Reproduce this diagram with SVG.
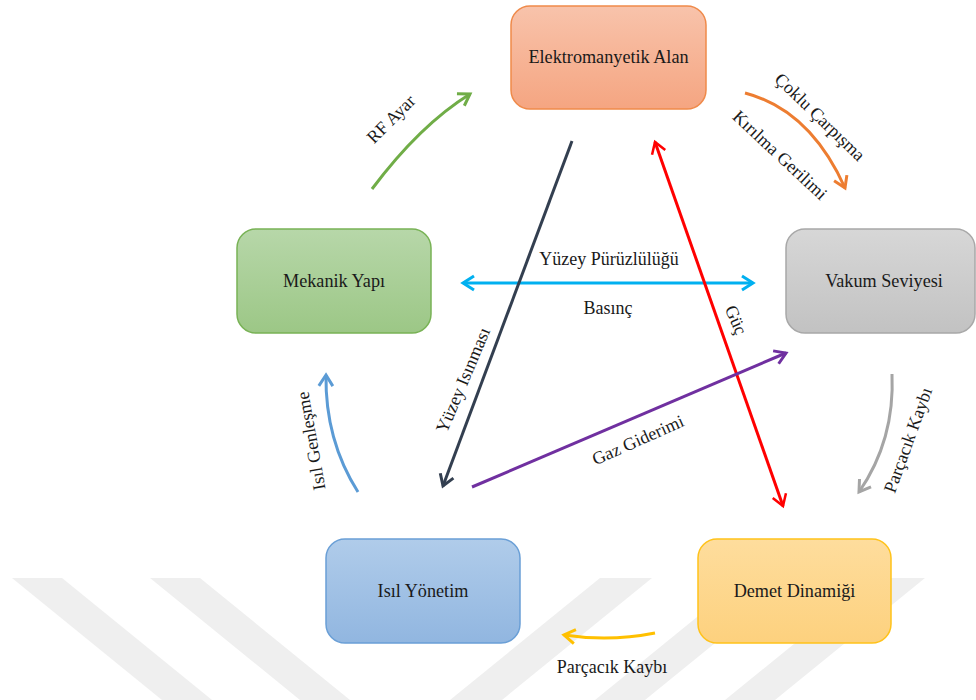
<svg xmlns="http://www.w3.org/2000/svg" width="976" height="700" viewBox="0 0 976 700">
  <style>
    .node-text { font-family: "Liberation Serif", "Times New Roman", serif; font-size: 18.2px; fill: #1a1a1a; text-anchor: middle; }
    .label { font-family: "Liberation Serif", "Times New Roman", serif; font-size: 18px; fill: #1a1a1a; text-anchor: middle; }
    .edge { fill: none; stroke-width: 3; stroke-linecap: butt; }
    .box { stroke-width: 1.5; }
    .stripe { fill: #efefef; }
  </style>
  <defs>
    <linearGradient id="g-orange" x1="0" y1="0" x2="0" y2="1">
      <stop offset="0" stop-color="#f8c3ab"/>
      <stop offset="1" stop-color="#f5a581"/>
    </linearGradient>
    <linearGradient id="g-green" x1="0" y1="0" x2="0" y2="1">
      <stop offset="0" stop-color="#b7d7a9"/>
      <stop offset="1" stop-color="#9cc786"/>
    </linearGradient>
    <linearGradient id="g-gray" x1="0" y1="0" x2="0" y2="1">
      <stop offset="0" stop-color="#d7d7d7"/>
      <stop offset="1" stop-color="#c2c2c2"/>
    </linearGradient>
    <linearGradient id="g-blue" x1="0" y1="0" x2="0" y2="1">
      <stop offset="0" stop-color="#b0ccea"/>
      <stop offset="1" stop-color="#91b6e0"/>
    </linearGradient>
    <linearGradient id="g-yellow" x1="0" y1="0" x2="0" y2="1">
      <stop offset="0" stop-color="#fedd9d"/>
      <stop offset="1" stop-color="#fdd17e"/>
    </linearGradient>
    <marker id="m-green" markerUnits="userSpaceOnUse" markerWidth="30" markerHeight="30" viewBox="-15 -15 30 30" refX="0" refY="0" orient="auto-start-reverse" overflow="visible">
      <path d="M-11,-7 L0,0 L-11,7" fill="none" stroke="#70ad47" stroke-width="3"/>
    </marker>
    <marker id="m-orange" markerUnits="userSpaceOnUse" markerWidth="30" markerHeight="30" viewBox="-15 -15 30 30" refX="0" refY="0" orient="auto-start-reverse" overflow="visible">
      <path d="M-11,-7 L0,0 L-11,7" fill="none" stroke="#ed7d31" stroke-width="3"/>
    </marker>
    <marker id="m-cyan" markerUnits="userSpaceOnUse" markerWidth="30" markerHeight="30" viewBox="-15 -15 30 30" refX="0" refY="0" orient="auto-start-reverse" overflow="visible">
      <path d="M-11,-7 L0,0 L-11,7" fill="none" stroke="#00b0f0" stroke-width="3"/>
    </marker>
    <marker id="m-navy" markerUnits="userSpaceOnUse" markerWidth="30" markerHeight="30" viewBox="-15 -15 30 30" refX="0" refY="0" orient="auto-start-reverse" overflow="visible">
      <path d="M-11,-7 L0,0 L-11,7" fill="none" stroke="#333f50" stroke-width="3"/>
    </marker>
    <marker id="m-red" markerUnits="userSpaceOnUse" markerWidth="30" markerHeight="30" viewBox="-15 -15 30 30" refX="0" refY="0" orient="auto-start-reverse" overflow="visible">
      <path d="M-11,-7 L0,0 L-11,7" fill="none" stroke="#ff0000" stroke-width="2.5"/>
    </marker>
    <marker id="m-purple" markerUnits="userSpaceOnUse" markerWidth="30" markerHeight="30" viewBox="-15 -15 30 30" refX="0" refY="0" orient="auto-start-reverse" overflow="visible">
      <path d="M-11,-7 L0,0 L-11,7" fill="none" stroke="#7030a0" stroke-width="3"/>
    </marker>
    <marker id="m-gray" markerUnits="userSpaceOnUse" markerWidth="30" markerHeight="30" viewBox="-15 -15 30 30" refX="0" refY="0" orient="auto-start-reverse" overflow="visible">
      <path d="M-11,-7 L0,0 L-11,7" fill="none" stroke="#a5a5a5" stroke-width="3"/>
    </marker>
    <marker id="m-blue" markerUnits="userSpaceOnUse" markerWidth="30" markerHeight="30" viewBox="-15 -15 30 30" refX="0" refY="0" orient="auto-start-reverse" overflow="visible">
      <path d="M-11,-7 L0,0 L-11,7" fill="none" stroke="#5b9bd5" stroke-width="3"/>
    </marker>
    <marker id="m-yellow" markerUnits="userSpaceOnUse" markerWidth="30" markerHeight="30" viewBox="-15 -15 30 30" refX="0" refY="0" orient="auto-start-reverse" overflow="visible">
      <path d="M-11,-7 L0,0 L-11,7" fill="none" stroke="#ffc000" stroke-width="3"/>
    </marker>
  </defs>

  <rect width="976" height="700" fill="#ffffff"/>

  <!-- faint diagonal background bands -->
  <g id="background-bands">
    <polygon class="stripe" points="12,578 62,578 212,700 162,700"/>
    <polygon class="stripe" points="150,578 200,578 350,700 300,700"/>
    <polygon class="stripe" points="600,578 652,578 502,700 450,700"/>
    <polygon class="stripe" points="745,578 795,578 645,700 595,700"/>
    <polygon class="stripe" points="875,578 925,578 775,700 725,700"/>
  </g>

  <g id="connectors">
    <!-- RF Ayar -->
    <path class="edge" d="M372,189 Q420,125 470,94" stroke="#70ad47" marker-end="url(#m-green)"/>
    <!-- Çoklu Çarpışma / Kırılma Gerilimi -->
    <path class="edge" d="M745,93 Q810,110 845,188" stroke="#ed7d31" marker-end="url(#m-orange)"/>
    <!-- Yüzey Pürüzlülüğü / Basınç -->
    <path class="edge" d="M463,283 L753,283" stroke="#00b0f0" marker-start="url(#m-cyan)" marker-end="url(#m-cyan)"/>
    <!-- Yüzey Isınması -->
    <path class="edge" d="M572,141 L443,486" stroke="#333f50" marker-end="url(#m-navy)"/>
    <!-- Güç -->
    <path class="edge" d="M655,142 L783,506" stroke="#ff0000" stroke-width="2.5" marker-start="url(#m-red)" marker-end="url(#m-red)"/>
    <!-- Gaz Giderimi -->
    <path class="edge" d="M472,487 L786,353" stroke="#7030a0" marker-end="url(#m-purple)"/>
    <!-- Parçacık Kaybı (vakum → demet) -->
    <path class="edge" d="M892,374 Q895,440 859,492" stroke="#a5a5a5" marker-end="url(#m-gray)"/>
    <!-- Isıl Genleşme -->
    <path class="edge" d="M358,492 Q325,440 326,375" stroke="#5b9bd5" marker-end="url(#m-blue)"/>
    <!-- Parçacık Kaybı (demet → ısıl) -->
    <path class="edge" d="M655,633 Q610,642 564,635" stroke="#ffc000" marker-end="url(#m-yellow)"/>

    <text class="label" transform="translate(391,119) rotate(-45)" y="6">RF Ayar</text>
    <text class="label" transform="translate(820,117) rotate(44)" y="6">Çoklu Çarpışma</text>
    <text class="label" transform="translate(780,155) rotate(43)" y="6">Kırılma Gerilimi</text>
    <text class="label" x="609" y="265">Yüzey Pürüzlülüğü</text>
    <text class="label" x="608" y="314">Basınç</text>
    <text class="label" transform="translate(463,380) rotate(-67)" y="6">Yüzey Isınması</text>
    <text class="label" transform="translate(736,320) rotate(66)" y="6">Güç</text>
    <text class="label" transform="translate(638,440) rotate(-24)" y="6">Gaz Giderimi</text>
    <text class="label" transform="translate(908,440) rotate(-70)" y="6">Parçacık Kaybı</text>
    <text class="label" transform="translate(311,441) rotate(-100)" y="6">Isıl Genleşme</text>
    <text class="label" x="612" y="673">Parçacık Kaybı</text>
  </g>

  <g id="node-elektromanyetik">
    <rect class="box" x="511" y="6" width="195" height="103" rx="19" fill="url(#g-orange)" stroke="#ef8a4a"/>
    <text class="node-text" x="608.5" y="63">Elektromanyetik Alan</text>
  </g>
  <g id="node-mekanik">
    <rect class="box" x="237" y="229" width="194" height="104" rx="19" fill="url(#g-green)" stroke="#78b255"/>
    <text class="node-text" x="334" y="287">Mekanik Yapı</text>
  </g>
  <g id="node-vakum">
    <rect class="box" x="786" y="229" width="189" height="104" rx="19" fill="url(#g-gray)" stroke="#a8a8a8"/>
    <text class="node-text" x="884" y="287">Vakum Seviyesi</text>
  </g>
  <g id="node-isil">
    <rect class="box" x="326" y="539" width="194" height="104" rx="19" fill="url(#g-blue)" stroke="#6a9fd6"/>
    <text class="node-text" x="423" y="597">Isıl Yönetim</text>
  </g>
  <g id="node-demet">
    <rect class="box" x="698" y="539" width="193" height="104" rx="19" fill="url(#g-yellow)" stroke="#ffc21a"/>
    <text class="node-text" x="794.5" y="597">Demet Dinamiği</text>
  </g>
</svg>
